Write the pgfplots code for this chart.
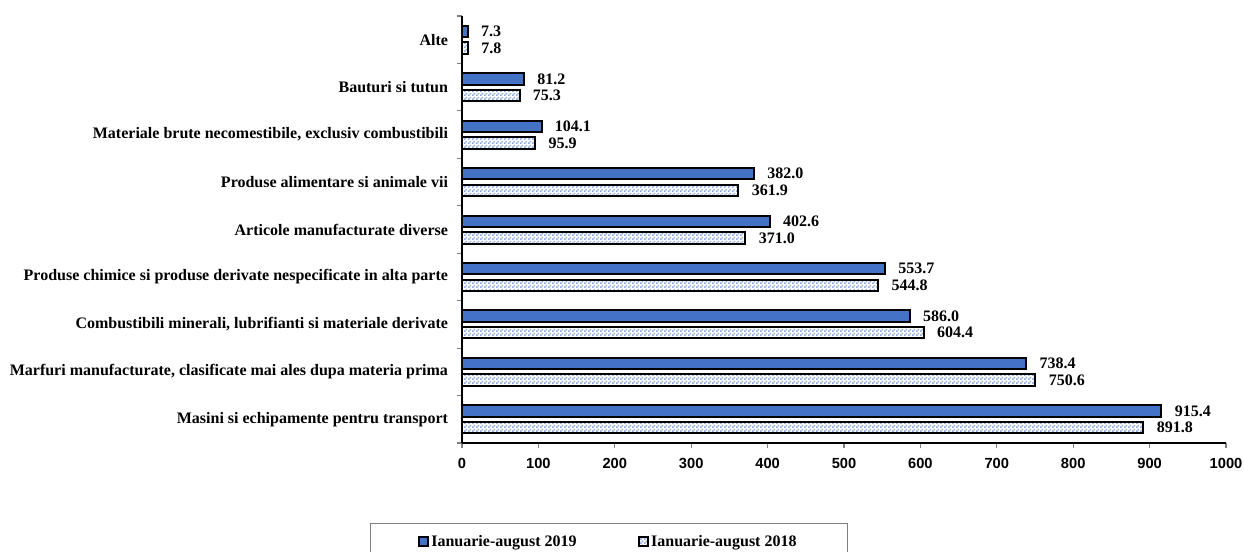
\documentclass[border=0pt]{standalone}
\usepackage{pgfplots}
\pgfplotsset{compat=1.18}
\usepackage{fontspec}
\setmainfont{Liberation Serif}
\setsansfont{Liberation Sans}
\usetikzlibrary{patterns}
\definecolor{bar19}{HTML}{4472C4}
\definecolor{pat18}{HTML}{8EA8E0}
\pgfdeclarepatternformonly{checks}{\pgfpointorigin}{\pgfpoint{3pt}{3pt}}{\pgfpoint{3pt}{3pt}}{%
  \pgfpathrectangle{\pgfpointorigin}{\pgfpoint{1.5pt}{1.5pt}}%
  \pgfpathrectangle{\pgfpoint{1.5pt}{1.5pt}}{\pgfpoint{1.5pt}{1.5pt}}%
  \pgfusepath{fill}}
\pgfplotstableread{
y v19 v18
0 915.4 891.8
1 738.4 750.6
2 586.0 604.4
3 553.7 544.8
4 402.6 371.0
5 382.0 361.9
6 104.1 95.9
7 81.2 75.3
8 7.3 7.8
}\datatable
\begin{document}
\begin{tikzpicture}
\path[use as bounding box] (-346.5pt,-81pt) rectangle (586.5pt,332.25pt);
\begin{axis}[
  at={(0,0)}, anchor=south west,
  scale only axis,
  width=573pt, height=320.25pt,
  xmin=0, xmax=1000,
  ymin=-0.5, ymax=8.5,
  axis x line*=bottom, axis y line*=left,
  axis line style={-, line width=0.8pt},
  xtick={0,100,...,1000},
  ytick={0,...,8},
  yticklabels={Masini si echipamente pentru transport,
    {Marfuri manufacturate, clasificate mai ales dupa materia prima},
    {Combustibili minerali, lubrifianti si materiale derivate},
    Produse chimice si produse derivate nespecificate in alta parte,
    Articole manufacturate diverse,
    Produse alimentare si animale vii,
    {Materiale brute necomestibile, exclusiv combustibili},
    Bauturi si tutun,
    Alte},
  minor ytick={-0.5,0.5,...,8.5},
  major y tick style={draw=none},
  minor y tick style={line width=0.8pt},
  major x tick style={line width=0.8pt},
  tick align=outside,
  major tick length=4pt, minor tick length=4pt,
  /pgf/number format/assume math mode=true,
  /pgf/number format/1000 sep={},
  xticklabel style={font=\sffamily\bfseries\fontsize{11}{12}\selectfont, yshift=-4pt},
  yticklabel style={font=\bfseries\fontsize{12}{13}\selectfont, xshift=-3pt},
  xbar,
  bar width=0.24,
  nodes near coords={\pgfmathprintnumber[fixed,fixed zerofill,precision=1]{\pgfplotspointmeta}},
  every node near coord/.append style={font=\bfseries\fontsize{12}{13}\selectfont, anchor=west, xshift=6pt},
  legend style={at={(0.192,-0.187)}, anchor=north, draw=gray, line width=0.8pt,
    legend columns=2, inner xsep=36pt, inner ysep=7pt,
    font=\bfseries\fontsize{12}{13}\selectfont,
    /tikz/every even column/.append style={column sep=44pt}},
  legend cell align=left,
  legend image code/.code={\draw[#1, line width=1.4pt] (0pt,-3pt) rectangle (6.5pt,3.5pt);},
]
\addplot[fill=bar19, draw=black, line width=1.5pt, bar shift=0.175] table[x=v19,y=y]{\datatable};
\addplot[pattern=checks, pattern color=pat18, draw=black, line width=1.5pt, bar shift=-0.175] table[x=v18,y=y]{\datatable};
\legend{Ianuarie-august 2019, Ianuarie-august 2018}
\end{axis}
\end{tikzpicture}
\end{document}
